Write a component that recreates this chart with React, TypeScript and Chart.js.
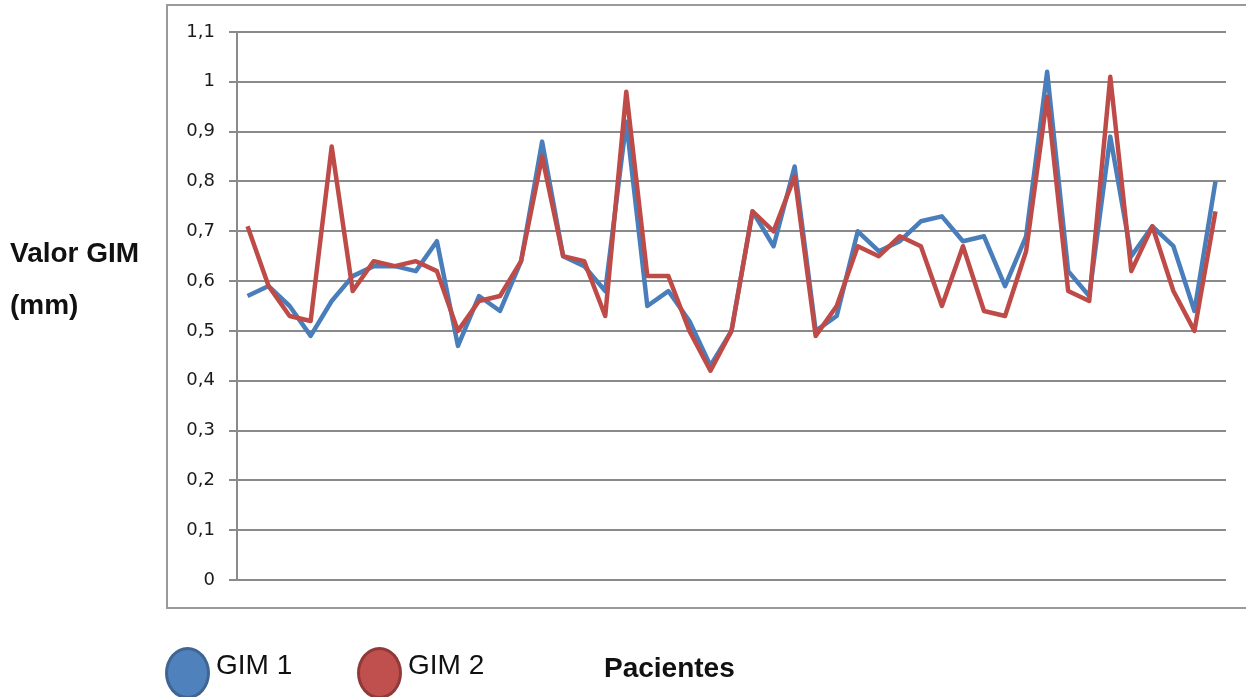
import React, { useEffect, useRef } from "react";
import { Chart, registerables } from "chart.js";

Chart.register(...registerables);

const patients: string[] = Array.from({ length: 47 }, (_, i) => String(i + 1));

const gim1: number[] = [
  0.57, 0.59, 0.55, 0.49, 0.56, 0.61, 0.63, 0.63, 0.62, 0.68,
  0.47, 0.57, 0.54, 0.64, 0.88, 0.65, 0.63, 0.58, 0.92, 0.55,
  0.58, 0.52, 0.43, 0.50, 0.74, 0.67, 0.83, 0.50, 0.53, 0.70,
  0.66, 0.68, 0.72, 0.73, 0.68, 0.69, 0.59, 0.69, 1.02, 0.62,
  0.57, 0.89, 0.65, 0.71, 0.67, 0.54, 0.80,
];

const gim2: number[] = [
  0.71, 0.59, 0.53, 0.52, 0.87, 0.58, 0.64, 0.63, 0.64, 0.62,
  0.50, 0.56, 0.57, 0.64, 0.85, 0.65, 0.64, 0.53, 0.98, 0.61,
  0.61, 0.50, 0.42, 0.50, 0.74, 0.70, 0.81, 0.49, 0.55, 0.67,
  0.65, 0.69, 0.67, 0.55, 0.67, 0.54, 0.53, 0.66, 0.97, 0.58,
  0.56, 1.01, 0.62, 0.71, 0.58, 0.50, 0.74,
];

const yMin = 0;
const yMax = 1.1;
const yStep = 0.1;

const BLUE = "#4A7EBB";
const RED = "#BE4B48";
const GRID = "#8a8a8a";

const textBase: React.CSSProperties = {
  position: "absolute",
  fontFamily: '"Liberation Sans", Arial, sans-serif',
  fontSize: "28px",
  lineHeight: "28px",
  whiteSpace: "nowrap",
  color: "#111",
};

export default function App() {
  const canvasRef = useRef<HTMLCanvasElement | null>(null);

  useEffect(() => {
    const ctx = canvasRef.current;
    if (!ctx) return;
    const chart = new Chart(ctx, {
      type: "line",
      data: {
        labels: patients,
        datasets: [
          {
            label: "GIM 2",
            data: gim2,
            borderColor: RED,
            backgroundColor: RED,
            borderWidth: 4.5,
            borderJoinStyle: "round",
            pointRadius: 0,
            tension: 0,
          },
          {
            label: "GIM 1",
            data: gim1,
            borderColor: BLUE,
            backgroundColor: BLUE,
            borderWidth: 4.5,
            borderJoinStyle: "round",
            pointRadius: 0,
            tension: 0,
          },
        ],
      },
      options: {
        responsive: false,
        animation: false,
        layout: { padding: { left: 165, right: 20, top: 32, bottom: 117 } },
        plugins: {
          legend: { display: false },
          tooltip: { enabled: false },
          title: { display: false },
        },
        scales: {
          x: {
            type: "category",
            offset: true,
            display: false,
            grid: { display: false },
          },
          y: {
            min: yMin,
            max: yMax,
            afterFit: (scale: any) => {
              scale.width = 72;
            },
            border: { display: true, color: GRID, width: 2 },
            grid: {
              color: GRID,
              lineWidth: 2,
              drawTicks: true,
              tickLength: 8,
            },
            ticks: {
              stepSize: yStep,
              padding: 14,
              color: "#1a1a1a",
              font: { family: '"DejaVu Sans", Verdana, sans-serif', size: 18 },
              callback: (v: any) => {
                const n = Math.round(Number(v) * 10) / 10;
                return String(n).replace(".", ",");
              },
            },
          },
        },
      },
    });
    return () => chart.destroy();
  }, []);

  return (
    <div style={{ position: "absolute", left: 0, top: 0, width: 1246, height: 697, overflow: "hidden", background: "#fff" }}>
      <div
        style={{
          position: "absolute",
          left: 166,
          top: 4,
          width: 1080,
          height: 605,
          boxSizing: "border-box",
          border: "2px solid #9a9a9a",
          borderRight: "none",
        }}
      />
      <canvas
        ref={canvasRef}
        width={1246}
        height={697}
        style={{ position: "absolute", left: 0, top: 0, width: 1246, height: 697 }}
      />
      <div style={{ ...textBase, left: 10, top: 239, fontWeight: "bold" }}>Valor GIM</div>
      <div style={{ ...textBase, left: 10, top: 291, fontWeight: "bold" }}>(mm)</div>
      <div
        style={{
          position: "absolute",
          left: 165,
          top: 647,
          width: 45,
          height: 52,
          boxSizing: "border-box",
          borderRadius: "50%",
          background: "#4F81BD",
          border: "3px solid #3f6593",
        }}
      />
      <div style={{ ...textBase, left: 216, top: 651 }}>GIM 1</div>
      <div
        style={{
          position: "absolute",
          left: 357,
          top: 647,
          width: 45,
          height: 52,
          boxSizing: "border-box",
          borderRadius: "50%",
          background: "#C0504D",
          border: "3px solid #8f3a38",
        }}
      />
      <div style={{ ...textBase, left: 408, top: 651 }}>GIM 2</div>
      <div style={{ ...textBase, left: 604, top: 654, fontWeight: "bold" }}>Pacientes</div>
    </div>
  );
}
